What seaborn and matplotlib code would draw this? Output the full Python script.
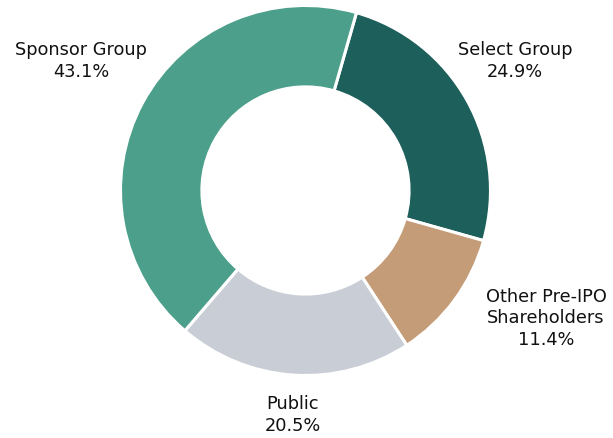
import matplotlib
matplotlib.use("Agg")
import matplotlib.pyplot as plt
import seaborn as sns

sns.set_style("white")
plt.rcParams['font.family'] = ['DejaVu Sans']

# data
groups = ['Sponsor Group', 'Select Group', 'Other Pre-IPO\nShareholders', 'Public']
shares = [43.1, 24.9, 11.4, 20.5]
colors = ['#4c9f8a', '#1d5f5b', '#c49c77', '#c9ced6']

# order drawn clockwise starting with Select Group
order = [1, 2, 3, 0]

# label spots (data coords, radius = 1)
label_pos = {
    'Sponsor Group': (-1.214, 0.705),
    'Select Group': (1.132, 0.705),
    'Other Pre-IPO\nShareholders': (1.30, -0.684),
    'Public': (-0.068, -1.208),
}

fig = plt.figure(figsize=(6.13, 4.39), dpi=100)
ax = fig.add_axes([0, 0, 1, 1])

ax.pie([shares[i] for i in order],
       colors=[colors[i] for i in order],
       startangle=74, counterclock=False, radius=1,
       wedgeprops=dict(width=0.44, edgecolor='white', linewidth=2.2))

for g, s in zip(groups, shares):
    x, y = label_pos[g]
    ax.text(x, y, f"{g}\n{s:.1f}%", ha='center', va='center',
            multialignment='center', fontsize=12.8, color='#111111',
            linespacing=1.25)

ax.set_aspect('equal')
ax.set_xlim(-1.651, 1.662)
ax.set_ylim(-1.338, 1.035)
ax.axis('off')

plt.savefig('out.png', dpi=100)
